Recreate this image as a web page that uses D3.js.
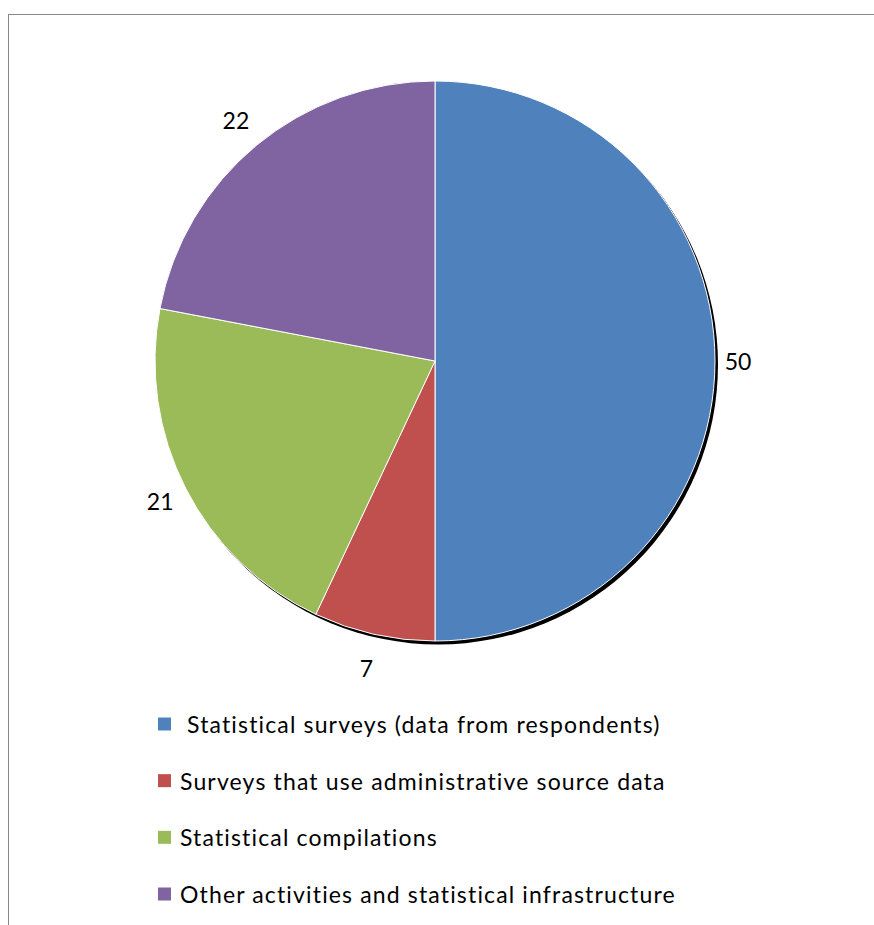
<!DOCTYPE html>
<html>
<head>
<meta charset="utf-8">
<script src="https://cdn.jsdelivr.net/npm/d3@7"></script>
<style>
  html, body { margin: 0; padding: 0; background: #fff; }
  svg { display: block; }
  text { font-family: Lato, "Liberation Sans", sans-serif; fill: #000; font-variant-ligatures: none; }
</style>
</head>
<body>
<svg id="chart" width="874" height="925"></svg>
<script>
const categories = [
    ' Statistical surveys (data from respondents)',
    'Surveys that use administrative source data',
    'Statistical compilations',
    'Other activities and statistical infrastructure'
];
const values = [50, 7, 21, 22];
const colours = ['#4f81bd', '#c0504d', '#9bbb59', '#8064a2'];

const width = 874;
const height = 925;
const cx = 435;
const cy = 361;
const radius = 280;

const data = categories.map((name, i) => ({ name, value: values[i] }));

const svg = d3.select('#chart');

// chart area frame (cut off on right and bottom)
svg.append('rect')
    .attr('x', 8.5)
    .attr('y', 14.5)
    .attr('width', width)
    .attr('height', height)
    .attr('fill', 'none')
    .attr('stroke', '#888')
    .attr('stroke-width', 1);

const colour = d3.scaleOrdinal()
    .domain(categories)
    .range(colours);

const createPie = d3.pie()
    .sort(null)
    .value(d => d.value);
const createArcPath = d3.arc()
    .innerRadius(0)
    .outerRadius(radius);

const arcs = createPie(data);

const chartGroup = svg.append('g')
    .attr('transform', `translate(${cx}, ${cy})`);

// shadow behind the pie
chartGroup.append('circle')
    .attr('cx', 3)
    .attr('cy', 3.5)
    .attr('r', radius)
    .attr('fill', '#000');

chartGroup.selectAll('path.arc')
    .data(arcs)
    .enter()
    .append('path')
    .attr('class', 'arc')
    .attr('d', createArcPath)
    .attr('fill', d => colour(d.data.name))
    .attr('stroke', '#fff')
    .attr('stroke-width', 1)
    .attr('stroke-linejoin', 'round');

// value labels outside the slices
chartGroup.selectAll('text.value')
    .data(arcs)
    .enter()
    .append('text')
    .attr('class', 'value')
    .attr('text-anchor', 'middle')
    .attr('dominant-baseline', 'central')
    .style('font-size', '23px')
    .attr('transform', d => {
        const a = (d.startAngle + d.endAngle) / 2;
        const r = radius + 23 + 12 * Math.abs(Math.cos(a));
        return `translate(${Math.sin(a) * r}, ${-Math.cos(a) * r})`;
    })
    .text(d => d.data.value);

// legend
const legendY = d3.scaleLinear()
    .domain([0, categories.length - 1])
    .range([724, 894]);

const legendGroup = svg.append('g');
const cells = legendGroup.selectAll('g.cell')
    .data(categories)
    .enter()
    .append('g')
    .attr('class', 'cell')
    .attr('transform', (d, i) => `translate(158, ${legendY(i)})`);

cells.append('rect')
    .attr('x', 0)
    .attr('y', -6.5)
    .attr('width', 13)
    .attr('height', 13)
    .attr('fill', d => colour(d));

cells.append('text')
    .attr('x', 22)
    .attr('y', 0)
    .attr('dominant-baseline', 'central')
    .style('font-size', '23px')
    .style('letter-spacing', '1.15px')
    .style('white-space', 'pre')
    .text(d => d);
</script>
</body>
</html>
